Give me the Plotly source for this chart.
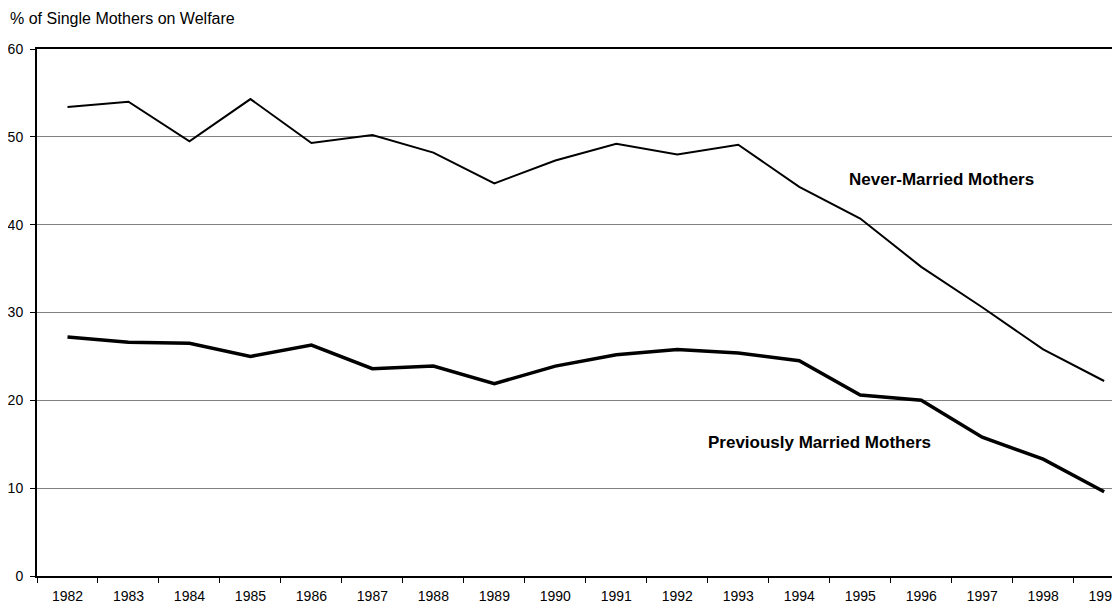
import plotly.graph_objects as go

years = [str(y) for y in range(1982, 2000)]
never_married = [53.4, 54.0, 49.5, 54.3, 49.3, 50.2, 48.2, 44.7, 47.3,
                 49.2, 48.0, 49.1, 44.3, 40.7, 35.2, 30.6, 25.8, 22.2]
prev_married = [27.2, 26.6, 26.5, 25.0, 26.3, 23.6, 23.9, 21.9, 23.9,
                25.2, 25.8, 25.4, 24.5, 20.6, 20.0, 15.8, 13.3, 9.6]
y_ticks = [0, 10, 20, 30, 40, 50, 60]

fnt = "Liberation Sans, Arial"

fig = go.Figure()

fig.add_trace(go.Scatter(
    x=years, y=never_married, mode="lines",
    line=dict(color="black", width=2),
    name="Never-Married Mothers",
))
fig.add_trace(go.Scatter(
    x=years, y=prev_married, mode="lines",
    line=dict(color="black", width=3.5),
    name="Previously Married Mothers",
))

# series labels
fig.add_annotation(
    x=14.33, y=45.1, xref="x", yref="y",
    text="<b>Never-Married Mothers</b>", showarrow=False,
    font=dict(family=fnt, size=17, color="black"),
)
fig.add_annotation(
    x=12.34, y=15.2, xref="x", yref="y",
    text="<b>Previously Married Mothers</b>", showarrow=False,
    font=dict(family=fnt, size=17, color="black"),
)
# y axis title on top
fig.add_annotation(
    x=0, y=1, xref="paper", yref="paper",
    xanchor="left", yanchor="middle", xshift=-29, yshift=31,
    text="% of Single Mothers on Welfare", showarrow=False,
    font=dict(family=fnt, size=16, color="black"),
)

# page body has an 8px margin, so the figure is 8px smaller
fig.update_layout(
    width=1112, height=595,
    margin=dict(l=29, r=0, t=41, b=27),
    plot_bgcolor="white", paper_bgcolor="white",
    showlegend=False,
    font=dict(family=fnt, size=14, color="black"),
)
fig.update_xaxes(
    type="category", range=[-0.5, 17.26],
    tickson="boundaries", ticks="outside", ticklen=5, tickcolor="black",
    ticklabelstandoff=6,
    showgrid=False, showline=True, linecolor="black", linewidth=1.5,
    mirror=True, zeroline=False, automargin=False,
)
fig.update_yaxes(
    range=[0, 60], tickvals=y_ticks, ticks="outside", ticklen=5,
    tickcolor="black", ticklabelstandoff=4,
    showgrid=True, gridcolor="#808080", gridwidth=1,
    showline=True, linecolor="black", linewidth=2, zeroline=False,
    automargin=False,
)

fig.write_html("out.html")
